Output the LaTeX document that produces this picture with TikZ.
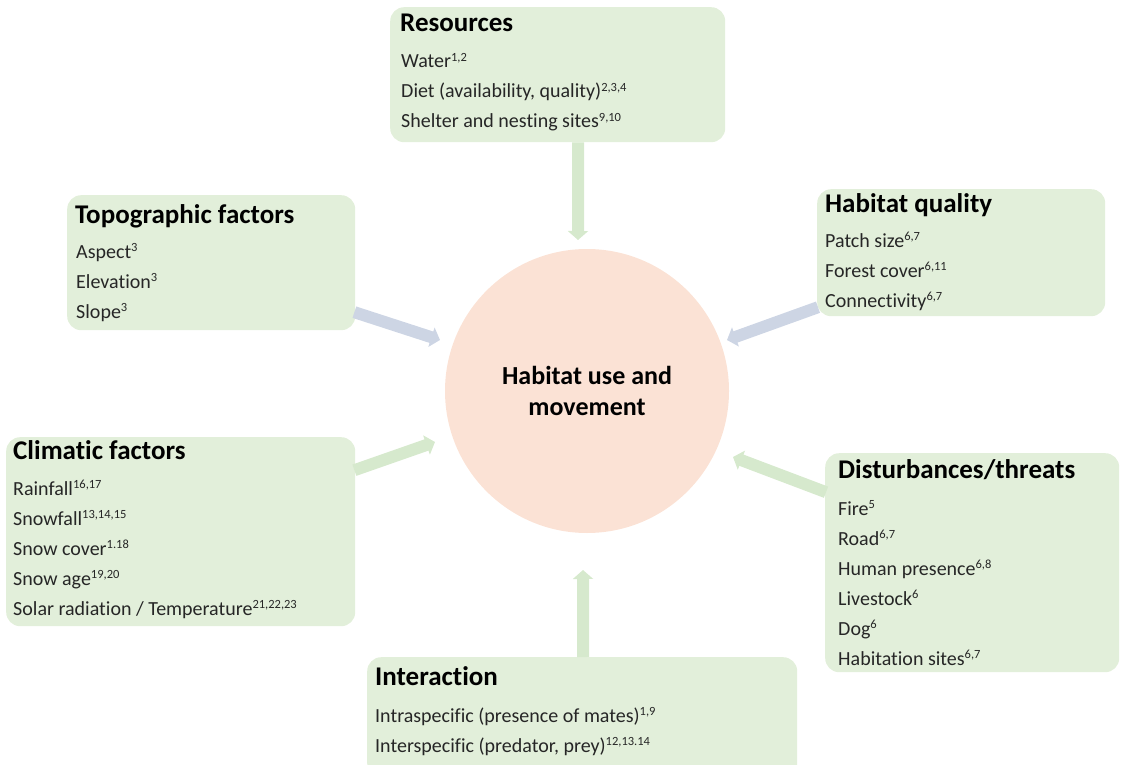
\documentclass[tikz,border=0pt]{standalone}
\usepackage{fontspec}
\setmainfont{Carlito}[Ligatures=NoCommon]
\usetikzlibrary{arrows.meta}

\definecolor{panelfill}{HTML}{E2EFDA}
\definecolor{hubfill}{HTML}{FBE2D5}
\definecolor{arrgreen}{HTML}{D6E9CD}
\definecolor{arrblue}{HTML}{CDD5E4}
\definecolor{itemcol}{HTML}{262626}

% reference numbers set as small raised text
\newcommand\rf[1]{\raisebox{6.5pt}{\fontsize{12.5}{14}\selectfont#1}}

\tikzset{
  panel/.style={rectangle, rounded corners=14pt, fill=panelfill, draw=none,
    anchor=north west, inner sep=0pt},
  titletext/.style={anchor=base west, inner sep=0pt, text=black,
    font=\fontsize{27}{31}\selectfont\bfseries},
  itemtext/.style={anchor=base west, inner sep=0pt, text=itemcol,
    font=\fontsize{20}{24}\selectfont},
  hub/.style={circle, fill=hubfill, minimum size=284pt, inner sep=0pt,
    align=center, font=\fontsize{26}{31}\selectfont\bfseries},
  flow/.style={line width=12pt, -{Triangle[length=9pt,width=20pt]}},
  flowgreen/.style={flow, draw=arrgreen},
  flowblue/.style={flow, draw=arrblue},
}

% items of one panel, 30pt apart: prefix, x, first baseline, list
\newcommand\itemlist[4]{%
  \foreach \t [count=\i] in {#4} {
    \node[itemtext] (#1-\i) at (#2, {#3+30*(\i-1)}) {\t};
  }%
}

\begin{document}
\begin{tikzpicture}[x=1pt, y=-1pt]
\useasboundingbox (0,0) rectangle (1121,765);

% arrow tips next to the central node
\coordinate (resTip)   at (578,240);
\coordinate (topoTip)  at (440,340);
\coordinate (hqTip)    at (727,340);
\coordinate (climTip)  at (435,442);
\coordinate (distTip)  at (733,457);
\coordinate (interTip) at (583,570);

% panel backgrounds
\path (390,7)   node[panel, minimum width=335pt, minimum height=135pt] (res) {};
\path (67,195)  node[panel, minimum width=288pt, minimum height=135pt] (topo) {};
\path (817,189) node[panel, minimum width=288pt, minimum height=127pt] (hq) {};
\path (6,437)   node[panel, minimum width=349pt, minimum height=189pt] (clim) {};
\path (825,453) node[panel, minimum width=294pt, minimum height=219pt] (dist) {};
\path (367,657) node[panel, minimum width=430pt, minimum height=120pt] (inter) {};

% arrows from each panel towards the central node
\draw[flowgreen] ([xshift=20.5pt]res.south) -- (resTip);
\draw[flowblue]  ([xshift=-1pt,yshift=-49.5pt]topo.east) -- (topoTip);
\draw[flowblue]  ([xshift=1pt,yshift=-54.5pt]hq.west) -- (hqTip);
\draw[flowgreen] ([xshift=-1pt,yshift=61.5pt]clim.east) -- (climTip);
\draw[flowgreen] ([xshift=1pt,yshift=70.5pt]dist.west) -- (distTip);
\draw[flowgreen] ([xshift=1pt]inter.north) -- (interTip);

% central node
\node[hub] (hub) at (587,391) {Habitat use and\\movement};

% Resources
\node[titletext] (res-title) at (400,32) {Resources};
\itemlist{res}{401}{68}{{Water\rf{1,2}},
  {Diet (availability, quality)\rf{2,3,4}},
  {Shelter and nesting sites\rf{9,10}}}

% Topographic factors
\node[titletext] (topo-title) at (75,223) {Topographic factors};
\itemlist{topo}{76}{258}{{Aspect\rf{3}},{Elevation\rf{3}},{Slope\rf{3}}}

% Habitat quality
\node[titletext] (hq-title) at (825,212) {Habitat quality};
\itemlist{hq}{825}{247}{{Patch size\rf{6,7}},{Forest cover\rf{6,11}},
  {Connectivity\rf{6,7}}}

% Climatic factors
\node[titletext] (clim-title) at (13,459) {Climatic factors};
\itemlist{clim}{13}{495}{{Rainfall\rf{16,17}},{Snowfall\rf{13,14,15}},
  {Snow cover\rf{1.18}},{Snow age\rf{19,20}},
  {Solar radiation / Temperature\rf{21,22,23}}}

% Disturbances/threats
\node[titletext] (dist-title) at (838,478) {Disturbances/threats};
\itemlist{dist}{838}{515}{{Fire\rf{5}},{Road\rf{6,7}},
  {Human presence\rf{6,8}},{Livestock\rf{6}},{Dog\rf{6}},
  {Habitation sites\rf{6,7}}}

% Interaction
\node[titletext] (inter-title) at (375,685) {Interaction};
\itemlist{inter}{375}{722}{{Intraspecific (presence of mates)\rf{1,9}},
  {Interspecific (predator, prey)\rf{12,13.14}}}
\end{tikzpicture}
\end{document}
